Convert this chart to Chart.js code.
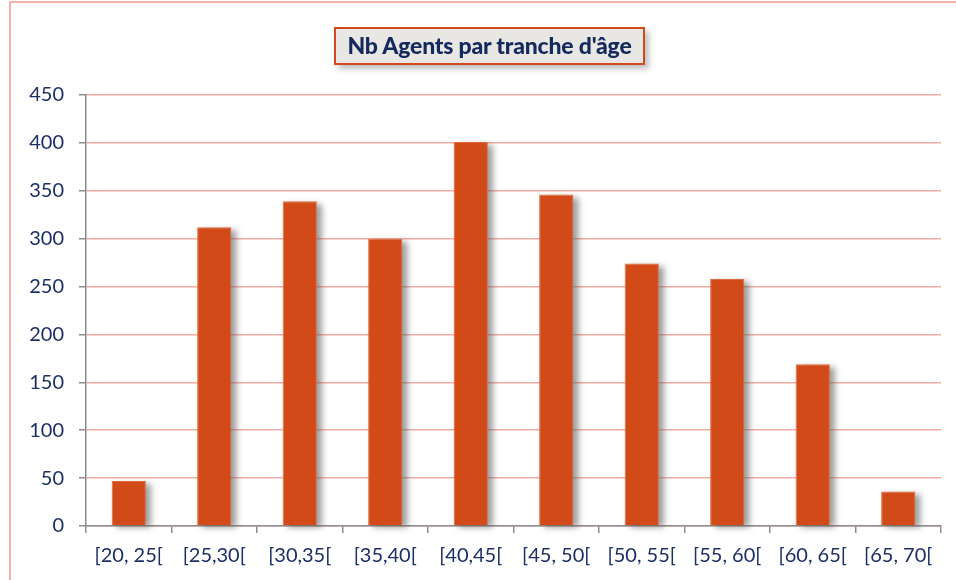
<!DOCTYPE html>
<html>
<head>
<meta charset="utf-8">
<script src="https://cdn.jsdelivr.net/npm/chart.js@4"></script>
<style>
  html, body { margin: 0; padding: 0; background: #fff; overflow: hidden; }
  #wrap { position: relative; width: 956px; height: 580px; }
  #frame { position: absolute; left: 9px; top: 1px; width: 1000px; height: 700px; border: 2px solid #F3B2AA; box-sizing: border-box; }
  #title {
    position: absolute; left: 334px; top: 27px; width: 311px; height: 38px; box-sizing: border-box;
    border: 2px solid #D24A17; background: #E9E7E3;
    box-shadow: 4px 4px 6px rgba(0,0,0,0.25);
    font-family: Lato, "Open Sans", sans-serif; font-weight: 900; font-size: 23px; color: #14295E;
    text-align: center; line-height: 33px; letter-spacing: -0.2px;
  }
  canvas { position: absolute; left: 0; top: 0; }
</style>
</head>
<body>
<div id="wrap">
  <div id="frame"></div>
  <canvas id="ageChart" width="956" height="580"></canvas>
  <div id="title">Nb Agents par tranche d'âge</div>
</div>
<script>
const tranches = ['[20, 25[', '[25,30[', '[30,35[', '[35,40[', '[40,45[', '[45, 50[', '[50, 55[', '[55, 60[', '[60, 65[', '[65, 70['];
const nbAgents = [47, 312, 339, 300, 401, 346, 274, 258, 169, 36];
const yTicks = [0, 50, 100, 150, 200, 250, 300, 350, 400, 450];

// ombre grise derriere chaque barre (positions prises des elements du graphique)
const barShadow = {
    id: 'barShadow',
    beforeDatasetsDraw(chart) {
        const c = chart.ctx;
        const bars = chart.getDatasetMeta(0).data;
        c.save();
        c.filter = 'blur(3px)';
        c.fillStyle = 'rgba(90,90,90,0.6)';
        bars.forEach(b => {
            const p = b.getProps(['x', 'y', 'width', 'base'], true);
            c.fillRect(p.x - p.width / 2 + 5, p.y + 3, p.width, p.base - p.y - 1);
        });
        c.restore();
    }
};

const navy = '#1B2F66';
const ctx = document.getElementById('ageChart').getContext('2d');

new Chart(ctx, {
    type: 'bar',
    data: {
        labels: tranches,
        datasets: [{
            data: nbAgents,
            backgroundColor: '#D24A17',
            borderColor: '#E06A40',
            borderWidth: 1,
            barPercentage: 0.4,
            categoryPercentage: 1
        }]
    },
    options: {
        responsive: false,
        animation: false,
        layout: { padding: { top: 95, right: 15, left: 0, bottom: 0 } },
        plugins: {
            legend: { display: false },
            tooltip: { enabled: false }
        },
        scales: {
            y: {
                min: 0,
                max: 450,
                afterFit: s => { s.width = 86; },
                afterBuildTicks: s => { s.ticks = yTicks.map(v => ({ value: v })); },
                ticks: {
                    color: navy,
                    font: { family: 'Lato, "Open Sans", sans-serif', size: 20 },
                    padding: 15
                },
                grid: {
                    color: '#F2ABA2',
                    lineWidth: 1.5,
                    tickColor: '#8C8C8C',
                    tickLength: 7
                },
                border: { color: '#8C8C8C', width: 1.5 }
            },
            x: {
                afterFit: s => { s.height = 54; },
                ticks: {
                    color: navy,
                    font: { family: 'Lato, "Open Sans", sans-serif', size: 20 },
                    padding: 11,
                    maxRotation: 0,
                    autoSkip: false
                },
                grid: {
                    drawOnChartArea: false,
                    tickColor: '#8C8C8C',
                    tickLength: 7,
                    lineWidth: 1.5,
                    offset: true
                },
                border: { color: '#8C8C8C', width: 1.5 }
            }
        }
    },
    plugins: [barShadow]
});
</script>
</body>
</html>
